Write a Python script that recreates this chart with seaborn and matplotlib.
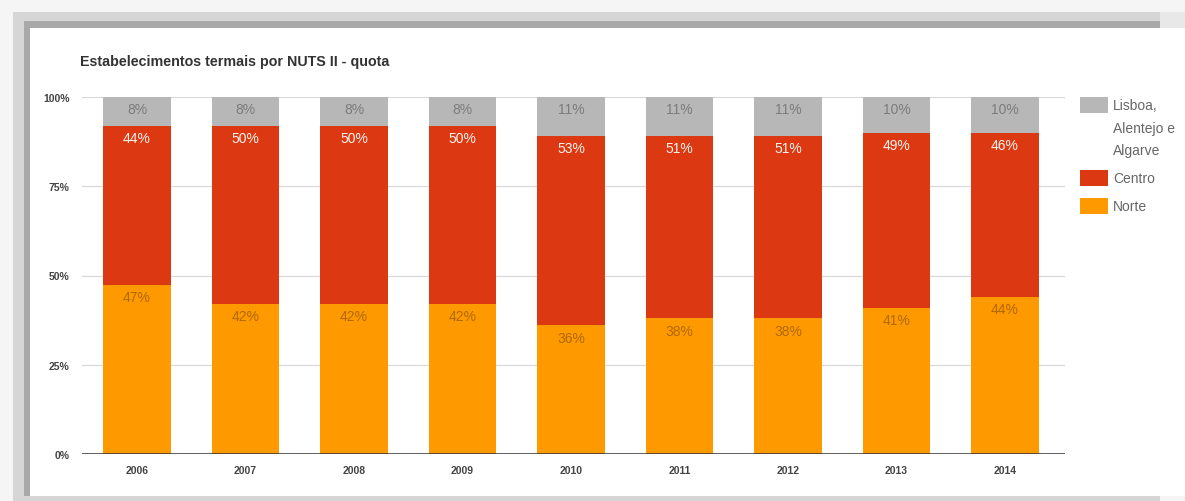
import matplotlib
matplotlib.use("Agg")
import matplotlib.pyplot as plt
from matplotlib.patches import Rectangle
import seaborn as sns
import pandas as pd
import numpy as np

# ---------------- data ----------------
years = ["2006", "2007", "2008", "2009", "2010", "2011", "2012", "2013", "2014"]
norte = [47, 42, 42, 42, 36, 38, 38, 41, 44]
centro = [44, 50, 50, 50, 53, 51, 51, 49, 46]
lisboa = [8, 8, 8, 8, 11, 11, 11, 10, 10]
series_names = ["Lisboa, Alentejo e Algarve", "Centro", "Norte"]
legend_lines = [["Lisboa,", "Alentejo e", "Algarve"], ["Centro"], ["Norte"]]
title = "Estabelecimentos termais por NUTS II - quota"
y_ticks = [0, 25, 50, 75, 100]
y_tick_labels = ["0%", "25%", "50%", "75%", "100%"]

col_lisboa = "#b7b7b7"
col_centro = "#dc3912"
col_norte = "#ff9900"
lab_lisboa = "#7c7c7c"
lab_centro = "#fff4ee"
lab_norte = "#b06800"

# ---------------- figure ----------------
W, H = 1185, 502
plt.rcParams["font.family"] = ["Liberation Sans", "DejaVu Sans"]
fig = plt.figure(figsize=(W / 100, H / 100), dpi=100)


def frect(x, y, w, h, color):
    """rectangle in pixel coords measured from the top-left corner"""
    r = Rectangle((x / W, 1 - (y + h) / H), w / W, h / H, transform=fig.transFigure,
                  facecolor=color, edgecolor="none", zorder=-10)
    fig.patches.append(r)


# screenshot frame / shadow
frect(0, 0, W, H, "#f5f5f5")
frect(13, 13, 1147, H - 13, "#d6d6d6")
frect(24, 22, 1136, 475, "#a9a9a9")
frect(1160, 13, 25, 17, "#e8e8e8")
frect(30, 29, W - 30, 468, "#ffffff")

ax = fig.add_axes([82 / W, 47 / H, 983 / W, 357 / H])
ax.set_facecolor("none")

tot = np.array(norte) + np.array(centro) + np.array(lisboa)
n_s = np.array(norte) / tot * 100
c_s = np.array(centro) / tot * 100
l_s = np.array(lisboa) / tot * 100

df = pd.DataFrame({
    "year": years,
    "total": n_s + c_s + l_s,
    "centro_top": n_s + c_s,
    "norte_top": n_s,
})

bw = 0.62
sns.barplot(data=df, x="year", y="total", color=col_lisboa, saturation=1,
            width=bw, errorbar=None, ax=ax, zorder=2)
sns.barplot(data=df, x="year", y="centro_top", color=col_centro, saturation=1,
            width=bw, errorbar=None, ax=ax, zorder=2)
sns.barplot(data=df, x="year", y="norte_top", color=col_norte, saturation=1,
            width=bw, errorbar=None, ax=ax, zorder=2)

# value labels at the top inside each segment
for i in range(len(years)):
    for val, top, col in ((lisboa[i], df["total"][i], lab_lisboa),
                          (centro[i], df["centro_top"][i], lab_centro),
                          (norte[i], df["norte_top"][i], lab_norte)):
        ax.annotate(f"{val}%", xy=(i, top), xytext=(0, -8.8), textcoords="offset points",
                    ha="center", va="center", fontsize=10, color=col, zorder=5)

ax.set_xlim(-0.507, 8.553)
ax.set_ylim(0, 100)
ax.set_yticks(y_ticks)
ax.set_yticklabels(y_tick_labels)
ax.set_xlabel("")
ax.set_ylabel("")
for s in ax.spines.values():
    s.set_visible(False)
ax.set_axisbelow(True)
ax.yaxis.grid(True, color="#d9d9d9", linewidth=0.9)
ax.xaxis.grid(False)
ax.axhline(0, color="#333333", linewidth=1.1, zorder=4)
ax.tick_params(axis="both", length=0, labelsize=7.5, labelcolor="#444444")
ax.tick_params(axis="y", pad=9)
ax.tick_params(axis="x", pad=8)
for lab in ax.get_xticklabels() + ax.get_yticklabels():
    lab.set_fontweight("bold")

# title
fig.text(80 / W, 1 - 62 / H, title, ha="left", va="center", fontsize=10.3,
         fontweight="bold", color="#333333")

# legend (manual, Google-Charts style)
leg_cols = [col_lisboa, col_centro, col_norte]
line_h = 22.5
yc = 106
for name, lines, col in zip(series_names, legend_lines, leg_cols):
    frect(1080, yc - 8, 28, 16, col)
    fig.patches[-1].set_zorder(5)
    for k, ln in enumerate(lines):
        fig.text(1113 / W, 1 - (yc + k * line_h) / H, ln, ha="left", va="center",
                 fontsize=10, color="#666666")
    yc += (len(lines) - 1) * line_h + 28

fig.savefig("out.png", dpi=100)
